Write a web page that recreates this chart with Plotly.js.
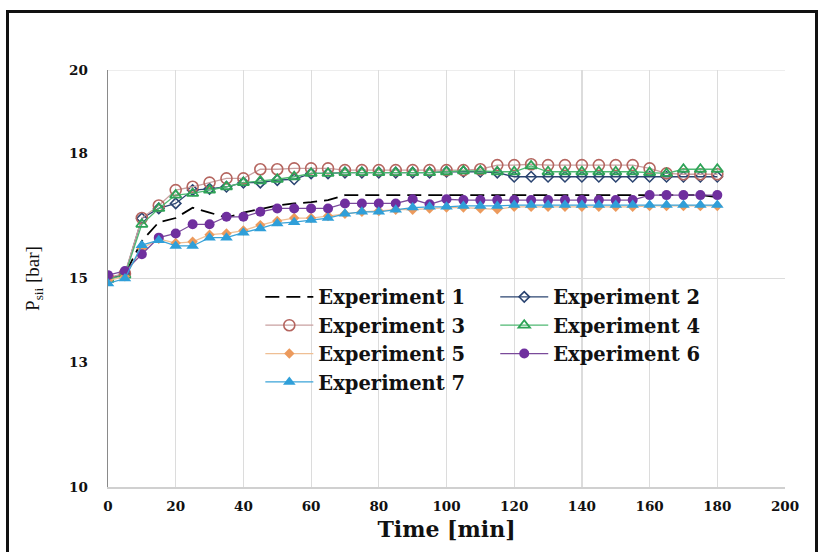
<!DOCTYPE html>
<html>
<head>
<meta charset="utf-8">
<script src="https://cdn.plot.ly/plotly-3.0.1.min.js"></script>
<style>
  html, body { margin: 0; padding: 0; background: #fff; }
  #wrap { position: relative; width: 823px; height: 552px; overflow: hidden; }
  #chart { width: 823px; height: 552px; }
  #frame { position: absolute; left: 6px; top: 10px; width: 806px; height: 600px;
           border: 3px solid #111; pointer-events: none; }
</style>
</head>
<body>
<div id="wrap"><div id="chart"></div><div id="frame"></div></div>
<script>
// Time [min]
const time = [0,5,10,15,20,25,30,35,40,45,50,55,60,65,70,75,80,85,90,95,100,105,110,115,120,125,130,135,140,145,150,155,160,165,170,175,180];

const exp1 = [15.0,15.1,15.9,16.35,16.45,16.7,16.58,16.46,16.58,16.66,16.75,16.8,16.83,16.88,17.0,17.0,17.0,17.0,17.0,17.0,17.0,17.0,17.0,17.0,17.0,17.0,17.0,17.0,17.0,17.0,17.0,17.0,17.0,17.0,17.0,17.0,16.95];
const exp2 = [15.0,15.1,16.44,16.68,16.8,17.12,17.15,17.2,17.3,17.3,17.36,17.38,17.52,17.52,17.54,17.54,17.54,17.54,17.54,17.54,17.56,17.56,17.56,17.54,17.44,17.44,17.44,17.44,17.44,17.44,17.44,17.44,17.44,17.44,17.44,17.44,17.44];
const exp3 = [15.02,15.12,16.45,16.75,17.12,17.2,17.3,17.4,17.4,17.62,17.62,17.64,17.64,17.64,17.6,17.6,17.6,17.6,17.6,17.6,17.6,17.6,17.62,17.72,17.72,17.74,17.72,17.72,17.72,17.72,17.72,17.72,17.64,17.52,17.5,17.5,17.5];
const exp4 = [14.98,15.08,16.3,16.68,17.0,17.04,17.12,17.2,17.3,17.34,17.38,17.44,17.52,17.52,17.54,17.54,17.54,17.54,17.54,17.54,17.56,17.58,17.58,17.56,17.56,17.7,17.56,17.56,17.56,17.56,17.56,17.56,17.54,17.52,17.62,17.62,17.62];
const exp5 = [14.95,15.05,15.72,15.95,15.85,15.88,16.05,16.08,16.15,16.28,16.38,16.45,16.45,16.5,16.55,16.6,16.62,16.65,16.65,16.68,16.7,16.7,16.68,16.66,16.72,16.72,16.72,16.72,16.72,16.72,16.72,16.72,16.74,16.74,16.74,16.74,16.74];
const exp6 = [15.08,15.18,15.58,15.98,16.08,16.3,16.3,16.48,16.48,16.6,16.68,16.68,16.68,16.68,16.8,16.8,16.8,16.8,16.9,16.78,16.9,16.88,16.88,16.88,16.88,16.88,16.88,16.88,16.88,16.88,16.88,16.88,17.0,17.0,17.0,17.0,17.0];
const exp7 = [14.88,15.0,15.8,15.92,15.78,15.78,15.98,15.98,16.1,16.2,16.32,16.35,16.4,16.45,16.55,16.6,16.6,16.65,16.7,16.72,16.72,16.74,16.74,16.74,16.76,16.76,16.76,16.76,16.76,16.76,16.76,16.76,16.76,16.76,16.76,16.76,16.76];

const names = ['Experiment 1','Experiment 2','Experiment 3','Experiment 4','Experiment 5','Experiment 6','Experiment 7'];
const yTicks = [10,13,15,18,20];
const xTicks = [0,20,40,60,80,100,120,140,160,180,200];

const traces = [
  {x: time, y: exp1, name: names[0], mode: 'lines', legend: 'legend', legendgroup: 'g1',
   line: {color: '#000000', width: 1.8, dash: '14px,7px'}},
  {x: time, y: exp2, name: names[1], mode: 'lines+markers', legend: 'legend2', legendgroup: 'g2',
   line: {color: '#2b4471', width: 1.3},
   marker: {symbol: 'diamond-open', size: 8, color: '#2b4471', line: {width: 1.6}}},
  {x: time, y: exp3, name: names[2], mode: 'lines+markers', legend: 'legend', legendgroup: 'g3',
   line: {color: '#c9a0a0', width: 1.3},
   marker: {symbol: 'circle-open', size: 11, color: '#b5655f', line: {width: 1.6}}},
  {x: time, y: exp4, name: names[3], mode: 'lines+markers', legend: 'legend2', legendgroup: 'g4',
   line: {color: '#4fb872', width: 1.3},
   marker: {symbol: 'triangle-up-open', size: 10, color: '#2ea357', line: {width: 1.8}}},
  {x: time, y: exp5, name: names[4], mode: 'lines+markers', legend: 'legend', legendgroup: 'g5',
   line: {color: '#efbf94', width: 1.3},
   marker: {symbol: 'diamond', size: 8, color: '#ec9a5c'}},
  {x: time, y: exp6, name: names[5], mode: 'lines+markers', legend: 'legend2', legendgroup: 'g6',
   line: {color: '#7a4a9a', width: 1.3},
   marker: {symbol: 'circle', size: 10, color: '#6f2f9e'}},
  {x: time, y: exp7, name: names[6], mode: 'lines+markers', legend: 'legend', legendgroup: 'g7',
   line: {color: '#3aa3d8', width: 1.3},
   marker: {symbol: 'triangle-up', size: 11, color: '#2f9fd9'}}
];

const tickFont = {family: 'DejaVu Serif', size: 13.5, color: '#111', weight: 'bold'};
const legFont = {family: 'DejaVu Serif', size: 19.5, color: '#111', weight: 'bold'};

const layout = {
  width: 823, height: 552,
  margin: {l: 108, r: 38, t: 70, b: 65, pad: 0},
  paper_bgcolor: '#ffffff', plot_bgcolor: '#ffffff',
  showlegend: true,
  xaxis: {
    range: [0, 200], tickvals: xTicks, ticks: '', tickfont: tickFont,
    showgrid: true, gridcolor: '#dcdcdc', gridwidth: 1.2, zeroline: false,
    showline: true, linecolor: '#d0d0d0', linewidth: 1.5,
    ticklabelstandoff: 6,
    title: {text: 'Time [min]', font: {family: 'DejaVu Serif', size: 22, color: '#111', weight: 'bold'}, standoff: 9}
  },
  yaxis: {
    range: [10, 20], tickvals: yTicks, ticks: '', tickfont: tickFont,
    showgrid: false, zeroline: false,
    showline: true, linecolor: '#8a8a8a', linewidth: 1.5,
    ticklabelstandoff: 16,
    title: {text: 'P<sub>sii</sub> [bar]', font: {family: 'Liberation Serif', size: 19, color: '#111'}, standoff: 24}
  },
  shapes: [
    {type: 'line', xref: 'paper', yref: 'y', x0: 0, x1: 1, y0: 15, y1: 15, layer: 'below', line: {color: '#dcdcdc', width: 1.2}},
    {type: 'line', xref: 'paper', yref: 'y', x0: 0, x1: 1, y0: 20, y1: 20, layer: 'below', line: {color: '#dcdcdc', width: 1.2}}
  ],
  legend: {x: 0.225, y: 0.502, xanchor: 'left', yanchor: 'top', bgcolor: 'rgba(0,0,0,0)',
           font: legFont, tracegroupgap: 0, itemwidth: 48},
  legend2: {x: 0.572, y: 0.502, xanchor: 'left', yanchor: 'top', bgcolor: 'rgba(0,0,0,0)',
           font: legFont, tracegroupgap: 0, itemwidth: 48}
};

Plotly.newPlot('chart', traces, layout, {displayModeBar: false, staticPlot: true});
</script>
</body>
</html>
